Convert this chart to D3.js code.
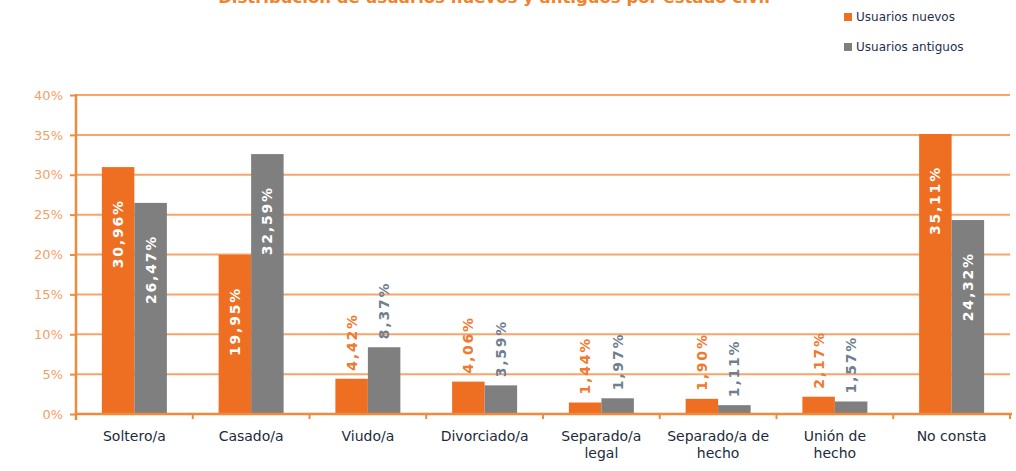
<!DOCTYPE html>
<html>
<head>
<meta charset="utf-8">
<script src="https://cdn.jsdelivr.net/npm/d3@7/dist/d3.min.js"></script>
<style>
  body { margin: 0; background: #fff; }
  svg { display: block; font-family: "DejaVu Sans", Verdana, sans-serif; }
</style>
</head>
<body>
<svg id="chart" width="1016" height="471"></svg>
<script>
// data
var categories = ['Soltero/a', 'Casado/a', 'Viudo/a', 'Divorciado/a', 'Separado/a legal',
  'Separado/a de hecho', 'Unión de hecho', 'No consta'];
var categoryLines = [['Soltero/a'], ['Casado/a'], ['Viudo/a'], ['Divorciado/a'],
  ['Separado/a', 'legal'], ['Separado/a de', 'hecho'], ['Unión de', 'hecho'], ['No consta']];
var seriesNames = ['Usuarios nuevos', 'Usuarios antiguos'];
var nuevos = [30.96, 19.95, 4.42, 4.06, 1.44, 1.90, 2.17, 35.11];
var antiguos = [26.47, 32.59, 8.37, 3.59, 1.97, 1.11, 1.57, 24.32];
var yTicks = [0, 5, 10, 15, 20, 25, 30, 35, 40];

var colors = {'Usuarios nuevos': '#ef6f22', 'Usuarios antiguos': '#7f7f7f'};
var outLabelColors = {'Usuarios nuevos': '#f07a30', 'Usuarios antiguos': '#6f7f8f'};

var svg = d3.select('#chart');
var plotLeft = 76, plotRight = 1010, plotTop = 95, plotBottom = 414;

var x0 = d3.scaleBand().domain(categories).range([plotLeft, plotRight]).padding(0);
var x1 = d3.scaleBand().domain(seriesNames)
    .range([x0.bandwidth() / 2 - 32.5, x0.bandwidth() / 2 + 32.5]);
var y = d3.scaleLinear().domain([0, 40]).range([plotBottom, plotTop]);

var fmt = function(v) { return v.toFixed(2).replace('.', ',') + '%'; };

// title (cut off at the top of the picture, as in the original)
svg.append('text')
    .attr('x', 494).attr('y', 3)
    .attr('text-anchor', 'middle')
    .attr('font-size', 16.5).attr('font-weight', 'bold')
    .attr('fill', '#f0842e')
    .text('Distribución de usuarios nuevos y antiguos por estado civil');

// gridlines
svg.append('g').selectAll('line')
    .data(yTicks.filter(function(d) { return d > 0; }))
    .enter().append('line')
    .attr('x1', plotLeft).attr('x2', plotRight)
    .attr('y1', function(d) { return y(d); })
    .attr('y2', function(d) { return y(d); })
    .attr('stroke', '#f8a46a').attr('stroke-width', 2);

// y axis
var yAxis = d3.axisLeft(y).tickValues(yTicks).tickSize(6).tickPadding(7)
    .tickFormat(function(d) { return d + '%'; });
var yg = svg.append('g').attr('transform', 'translate(' + plotLeft + ',0)').call(yAxis);
yg.select('.domain').remove();
yg.selectAll('line').attr('stroke', '#f08a3c').attr('stroke-width', 2);
yg.selectAll('text').attr('fill', '#f4a064').attr('font-size', 13)
    .attr('font-family', '"DejaVu Sans", Verdana, sans-serif');
svg.append('line')
    .attr('x1', plotLeft).attr('x2', plotLeft).attr('y1', plotTop - 1).attr('y2', plotBottom + 6)
    .attr('stroke', '#f08a3c').attr('stroke-width', 2.5);

// bars
var groups = svg.append('g').selectAll('g')
    .data(categories)
    .enter().append('g')
    .attr('transform', function(d) { return 'translate(' + x0(d) + ',0)'; });

var barData = function(d, i) {
  return [
    {s: 'Usuarios nuevos', v: nuevos[i]},
    {s: 'Usuarios antiguos', v: antiguos[i]}
  ];
};

groups.selectAll('rect')
    .data(barData)
    .enter().append('rect')
    .attr('x', function(d) { return x1(d.s); })
    .attr('width', x1.bandwidth())
    .attr('y', function(d) { return y(d.v); })
    .attr('height', function(d) { return plotBottom - y(d.v); })
    .attr('fill', function(d) { return colors[d.s]; });

// value labels, rotated
groups.selectAll('text.val')
    .data(barData)
    .enter().append('text')
    .attr('class', 'val')
    .attr('transform', function(d) {
      var cx = x1(d.s) + x1.bandwidth() / 2;
      var inside = d.v > 15;
      var yy = inside ? y(d.v) + 32 : y(d.v) - 8;
      return 'translate(' + cx + ',' + yy + ') rotate(-90)';
    })
    .attr('text-anchor', function(d) { return d.v > 15 ? 'end' : 'start'; })
    .attr('dy', '0.36em')
    .attr('font-size', 14).attr('font-weight', 'bold')
    .attr('letter-spacing', 1.8)
    .attr('fill', function(d) { return d.v > 15 ? '#ffffff' : outLabelColors[d.s]; })
    .text(function(d) { return fmt(d.v); });

// x axis
svg.append('line')
    .attr('x1', plotLeft).attr('x2', plotRight + 2).attr('y1', plotBottom).attr('y2', plotBottom)
    .attr('stroke', '#f08a3c').attr('stroke-width', 2.5);
svg.append('g').selectAll('line')
    .data(categories.map(function(c) { return x0(c); }).concat([plotRight]))
    .enter().append('line')
    .attr('x1', function(d) { return d; }).attr('x2', function(d) { return d; })
    .attr('y1', plotBottom).attr('y2', plotBottom + 5)
    .attr('stroke', '#f08a3c').attr('stroke-width', 2);

// category labels
var catText = svg.append('g').selectAll('text')
    .data(categories)
    .enter().append('text')
    .attr('x', function(d) { return x0(d) + x0.bandwidth() / 2; })
    .attr('y', 441)
    .attr('text-anchor', 'middle')
    .attr('font-size', 14)
    .attr('fill', '#1c2b3a');
catText.selectAll('tspan')
    .data(function(d, i) { return categoryLines[i]; })
    .enter().append('tspan')
    .attr('x', function() { return d3.select(this.parentNode).attr('x'); })
    .attr('dy', function(d, i) { return i === 0 ? 0 : 17; })
    .text(function(d) { return d; });

// legend
var legend = svg.append('g').selectAll('g')
    .data(seriesNames)
    .enter().append('g')
    .attr('transform', function(d, i) { return 'translate(844,' + (17 + i * 30) + ')'; });
legend.append('rect')
    .attr('x', 0).attr('y', -4).attr('width', 8).attr('height', 8)
    .attr('fill', function(d) { return colors[d]; });
legend.append('text')
    .attr('x', 12).attr('dy', '0.35em')
    .attr('font-size', 12).attr('fill', '#1f2f4f')
    .text(function(d) { return d; });
</script>
</body>
</html>
